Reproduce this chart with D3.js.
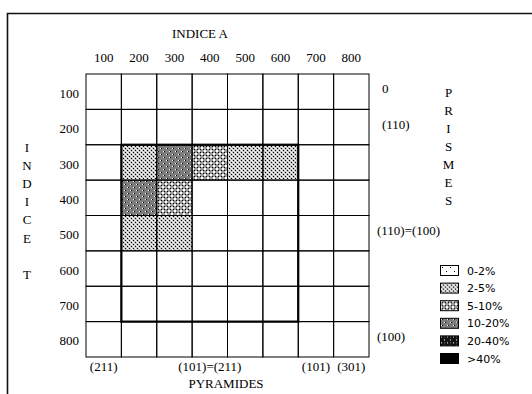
<!DOCTYPE html>
<html>
<head>
<meta charset="utf-8">
<script src="https://cdn.jsdelivr.net/npm/d3@7/dist/d3.min.js"></script>
<style>
  html, body { margin: 0; padding: 0; background: #fff; }
  svg { display: block; }
  .serif { font-family: "Liberation Serif", "Times New Roman", serif; font-size: 13px; fill: #000; }
  .legend-text { font-family: "DejaVu Sans", sans-serif; font-size: 11px; fill: #000; }
</style>
</head>
<body>
<svg id="chart" width="532" height="394"></svg>
<script>
// Index values along both axes
const colLabels = ["100", "200", "300", "400", "500", "600", "700", "800"];
const rowLabels = ["100", "200", "300", "400", "500", "600", "700", "800"];

// Frequency classes
const levels = ["0-2%", "2-5%", "5-10%", "10-20%", "20-40%", ">40%"];

// Shaded cells: row index (INDICE T), column index (INDICE A), class
const cellRows   = ["300", "300", "300", "300", "300", "400", "400", "500", "500"];
const cellCols   = ["200", "300", "400", "500", "600", "200", "300", "200", "300"];
const cellLevels = ["2-5%", "10-20%", "5-10%", "2-5%", "2-5%", "10-20%", "5-10%", "2-5%", "2-5%"];

// Outlined domain
const boxCols = ["200", "600"];
const boxRows = ["300", "700"];

// Annotations under the grid (PYRAMIDES) and to its right (PRISMES)
const bottomCols = ["100", "400", "700", "800"];
const bottomText = ["(211)", "(101)=(211)", "(101)", "(301)"];
const rightRows  = ["100", "200", "500", "800"];
const rightText  = ["0", "(110)", "(110)=(100)", "(100)"];

const svg = d3.select("#chart");

const x = d3.scaleBand().domain(colLabels).range([86, 369]);
const y = d3.scaleBand().domain(rowLabels).range([74, 357]);

// ---- fill patterns for the classes ----
const defs = svg.append("defs");
function pattern(id, w, h, bg, dots) {
  const p = defs.append("pattern")
    .attr("id", id).attr("patternUnits", "userSpaceOnUse")
    .attr("width", w).attr("height", h);
  p.append("rect").attr("width", w).attr("height", h).attr("fill", bg);
  dots.forEach(([dx, dy, c, s]) => {
    p.append("rect").attr("x", dx).attr("y", dy)
      .attr("width", s || 1).attr("height", s || 1)
      .attr("fill", c).attr("shape-rendering", "crispEdges");
  });
}
pattern("lv0", 8, 8, "#ffffff", [[2, 2, "#000"], [6, 6, "#000"]]);
pattern("lv1", 4, 4, "#c4c4c4", [[1, 0, "#000"], [3, 2, "#000"], [1, 2, "#fff"], [3, 0, "#fff"], [0, 1, "#e6e6e6"], [2, 3, "#e6e6e6"]]);
pattern("lv2", 6, 6, "#9c9c9c", [[0, 0, "#fff", 2], [3, 3, "#fff", 2], [2, 2, "#000"], [5, 5, "#000"], [5, 2, "#000"], [2, 5, "#000"]]);
pattern("lv3", 6, 6, "#7c7c7c", [[1, 1, "#fff"], [2, 1, "#000"], [4, 4, "#fff"], [5, 4, "#000"]]);
pattern("lv4", 6, 6, "#141414", [[1, 1, "#fff"], [4, 4, "#fff"], [4, 1, "#777"]]);
pattern("lv5", 4, 4, "#000000", []);
const fillFor = lv => `url(#lv${levels.indexOf(lv)})`;

// ---- outer frame ----
svg.append("path")
  .attr("d", "M7.5,400 V13.5 H540")
  .attr("fill", "none").attr("stroke", "#111").attr("stroke-width", 1.6);

// ---- grid cells ----
const cellData = cellRows.map((r, i) => ({ row: r, col: cellCols[i], level: cellLevels[i] }));
const grid = [];
rowLabels.forEach(r => colLabels.forEach(c => grid.push({ row: r, col: c })));

svg.append("g").selectAll("rect").data(grid).join("rect")
  .attr("x", d => x(d.col)).attr("y", d => y(d.row))
  .attr("width", x.bandwidth()).attr("height", y.bandwidth())
  .attr("fill", "#fff");

svg.append("g").selectAll("rect").data(cellData).join("rect")
  .attr("x", d => x(d.col)).attr("y", d => y(d.row))
  .attr("width", x.bandwidth()).attr("height", y.bandwidth())
  .attr("fill", d => fillFor(d.level));

svg.append("g").selectAll("rect").data(grid).join("rect")
  .attr("x", d => x(d.col)).attr("y", d => y(d.row))
  .attr("width", x.bandwidth()).attr("height", y.bandwidth())
  .attr("fill", "none").attr("stroke", "#000").attr("stroke-width", 1);

// heavy outline of the domain
svg.append("rect")
  .attr("x", x(boxCols[0])).attr("y", y(boxRows[0]))
  .attr("width", x(boxCols[1]) + x.bandwidth() - x(boxCols[0]))
  .attr("height", y(boxRows[1]) + y.bandwidth() - y(boxRows[0]))
  .attr("fill", "none").attr("stroke", "#000").attr("stroke-width", 2.2);

// ---- axes ----
const topAxis = svg.append("g").attr("class", "serif")
  .attr("transform", "translate(0,74)")
  .call(d3.axisTop(x).tickSize(0).tickPadding(12));
const leftAxis = svg.append("g")
  .attr("transform", "translate(86,2)")
  .call(d3.axisLeft(y).tickSize(0).tickPadding(7));
[topAxis, leftAxis].forEach(g => {
  g.select(".domain").remove();
  g.selectAll("text").attr("class", "serif").attr("fill", "#000")
    .style("font-family", "Liberation Serif").style("font-size", "13px");
});

// axis titles
svg.append("text").attr("class", "serif").attr("x", 200).attr("y", 37.5)
  .attr("text-anchor", "middle").text("INDICE A");
svg.append("text").attr("class", "serif").attr("x", 226).attr("y", 387.5)
  .attr("text-anchor", "middle").text("PYRAMIDES");

// vertical titles, one letter per line
function verticalWord(word, cx, cy0, step) {
  svg.append("g").selectAll("text").data(word.split("")).join("text")
    .attr("class", "serif")
    .attr("x", cx).attr("y", (d, i) => cy0 + i * step + 4.5)
    .attr("text-anchor", "middle").text(d => d);
}
verticalWord("INDICE T", 27, 147, 18.2);
verticalWord("PRISMES", 448.5, 92.5, 18);

// annotations under the grid
svg.append("g").selectAll("text").data(bottomCols).join("text")
  .attr("class", "serif")
  .attr("x", d => x(d) + x.bandwidth() / 2).attr("y", 371)
  .attr("text-anchor", "middle")
  .text((d, i) => bottomText[i]);

// annotations right of the grid
svg.append("g").selectAll("text").data(rightRows).join("text")
  .attr("class", "serif")
  .attr("x", (d, i) => i < 2 ? 382 : 377)
  .attr("y", d => y(d) + y.bandwidth() / 2 + 1.5)
  .text((d, i) => rightText[i]);

// ---- legend ----
const legend = svg.append("g").attr("transform", "translate(440,265)");
const item = legend.selectAll("g").data(levels).join("g")
  .attr("transform", (d, i) => `translate(0,${i * 17.6})`);
item.append("rect")
  .attr("x", 0.5).attr("y", 0.5).attr("width", 18).attr("height", 10)
  .attr("fill", d => fillFor(d)).attr("stroke", "#000").attr("stroke-width", 1);
item.append("text").attr("class", "legend-text")
  .attr("x", 27).attr("y", 9.5)
  .text(d => d);
</script>
</body>
</html>
